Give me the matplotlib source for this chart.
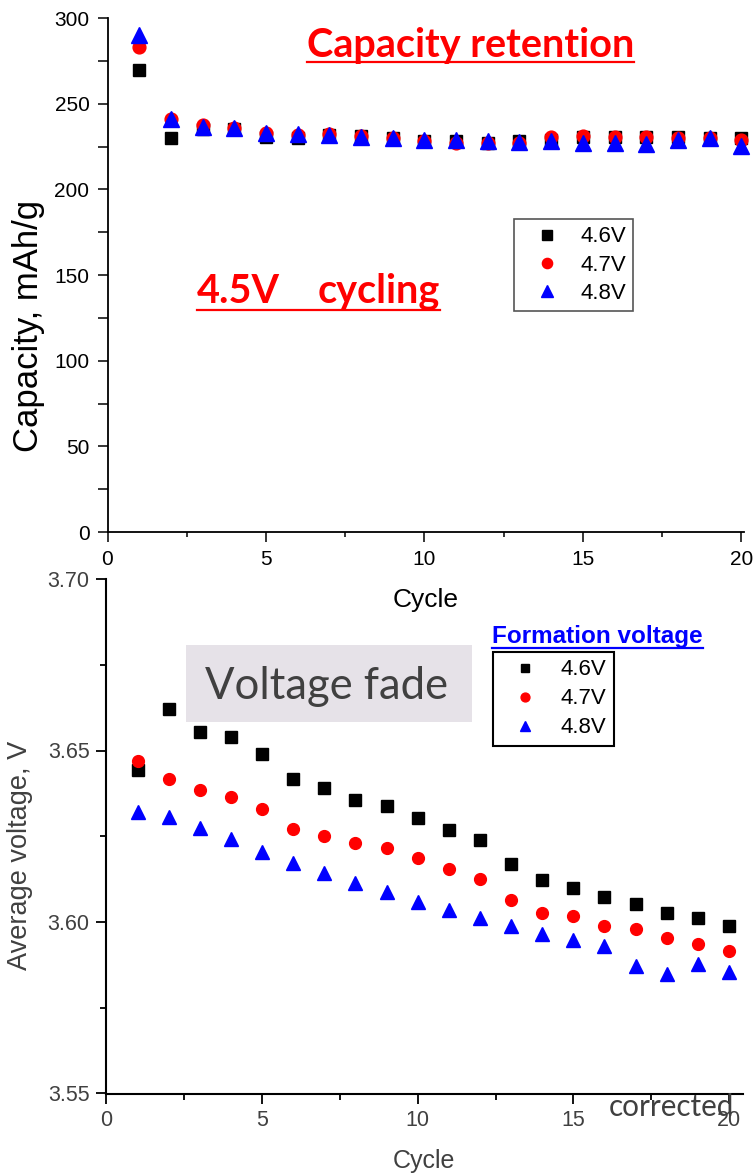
import numpy as np
import matplotlib.pyplot as plt
from matplotlib.lines import Line2D
from matplotlib.patches import Rectangle
from matplotlib.ticker import MultipleLocator, FormatStrFormatter

# Cycle numbers shared by both panels
cycles = np.arange(1, 21)

# Discharge capacity (mAh/g) per cycle at 4.5V, for each formation voltage
cap_46 = [269.6, 230.0, 235.5, 235.0, 230.4, 230.0, 232.0, 231.0, 229.8, 228.5,
          228.0, 227.0, 228.0, 229.0, 230.8, 230.8, 230.8, 230.4, 229.8, 229.8]
cap_47 = [283.3, 241.0, 237.6, 236.0, 232.7, 231.8, 232.3, 231.2, 229.8, 228.0,
          227.0, 227.0, 227.0, 230.4, 231.2, 230.4, 230.4, 229.8, 229.8, 228.8]
cap_48 = [290.0, 241.0, 236.6, 235.8, 233.0, 232.3, 232.0, 230.6, 230.0, 228.8,
          228.8, 228.2, 227.6, 228.0, 227.3, 226.9, 226.3, 228.8, 229.8, 225.5]

# Average discharge voltage (V) per cycle
volt_46 = [3.6443, 3.6620, 3.6553, 3.6538, 3.6490, 3.6416, 3.6390, 3.6355, 3.6337, 3.6302,
           3.6268, 3.6239, 3.6169, 3.6122, 3.6098, 3.6074, 3.6052, 3.6027, 3.6011, 3.5988]
volt_47 = [3.6469, 3.6416, 3.6385, 3.6364, 3.6329, 3.6270, 3.6251, 3.6231, 3.6215, 3.6187,
           3.6154, 3.6125, 3.6064, 3.6027, 3.6018, 3.5988, 3.5979, 3.5954, 3.5935, 3.5915]
volt_48 = [3.6322, 3.6307, 3.6273, 3.6241, 3.6205, 3.6173, 3.6144, 3.6115, 3.6087, 3.6059,
           3.6035, 3.6011, 3.5988, 3.5965, 3.5948, 3.5930, 3.5873, 3.5848, 3.5878, 3.5853]

labels = ["4.6V", "4.7V", "4.8V"]
colors = ["black", "red", "blue"]
markers = ["s", "o", "^"]

W, H = 755, 1175
fig = plt.figure(figsize=(W / 100, H / 100), dpi=100)


def px_axes(x0, x1, ytop, ybot):
    return fig.add_axes([x0 / W, 1 - ybot / H, (x1 - x0) / W, (ybot - ytop) / H])


def underline(first, last, y_px, color, lw):
    fig.canvas.draw()
    x0 = first.get_window_extent().x0
    x1 = last.get_window_extent().x1
    fig.add_artist(Line2D([x0 / W, x1 / W], [1 - y_px / H] * 2,
                          transform=fig.transFigure, color=color, lw=lw))


# ---- capacity retention panel ----
ax1 = px_axes(107.5, 744.5, 18, 532)
cap_sizes = [8.2, 9.2, 11]
for y, c, m, ms, lab in zip([cap_46, cap_47, cap_48], colors, markers, cap_sizes, labels):
    ax1.plot(cycles, y, ls="none", marker=m, color=c, ms=ms, label=lab, clip_on=False)
ax1.set_xlim(0, 20.1)
ax1.set_ylim(0, 300)
ax1.xaxis.set_major_locator(MultipleLocator(5))
ax1.xaxis.set_minor_locator(MultipleLocator(2.5))
ax1.yaxis.set_major_locator(MultipleLocator(50))
ax1.yaxis.set_minor_locator(MultipleLocator(25))
for s in ["top", "right"]:
    ax1.spines[s].set_visible(False)
for s in ["left", "bottom"]:
    ax1.spines[s].set_linewidth(1.3)
ax1.tick_params(which="major", direction="out", length=7, width=1.1, labelsize=15, pad=6)
ax1.tick_params(axis="y", which="minor", direction="out", length=7, width=1.1)
ax1.tick_params(axis="x", which="minor", direction="out", length=3.5, width=1.1)
for t in ax1.get_xticklabels() + ax1.get_yticklabels():
    t.set_family("Liberation Sans")
fig.text(29 / W, 1 - 326 / H, "Capacity, mAh/g", rotation=90, ha="center", va="center",
         fontsize=25, family="Liberation Sans")
fig.text(426 / W, 1 - 600 / H, "Cycle", ha="center", va="center",
         fontsize=19, family="Liberation Sans")
leg1 = ax1.legend(loc="upper left", bbox_to_anchor=(514 / W, 1 - 219 / H),
                  bbox_transform=fig.transFigure, borderaxespad=0, fancybox=False,
                  edgecolor="#555555", framealpha=1, prop={"family": "Liberation Sans", "size": 16},
                  handlelength=2.3, handletextpad=0.35, borderpad=0.33, labelspacing=0.33,
                  markerscale=0.8)
leg1.get_frame().set_linewidth(1.2)

title_kw = dict(ha="left", va="baseline", fontsize=28.5, fontweight="bold",
                color="red", family="Lato")
t1 = fig.text(307 / W, 1 - 57 / H, "Capacity retention", **title_kw)
t2a = fig.text(197 / W, 1 - 303 / H, "4.5V", **title_kw)
t2b = fig.text(318 / W, 1 - 303 / H, "cycling", **title_kw)

# ---- voltage fade panel ----
gray = "#404040"
ax2 = px_axes(106.4, 743, 579, 1093.5)
volt_sizes = [8, 8.5, 10]
for y, c, m, ms, lab in zip([volt_46, volt_47, volt_48], colors, markers, volt_sizes, labels):
    ax2.plot(cycles, y, ls="none", marker=m, color=c, ms=ms, label=lab)
ax2.set_xlim(0, 20.45)
ax2.set_ylim(3.55, 3.70)
ax2.xaxis.set_major_locator(MultipleLocator(5))
ax2.xaxis.set_minor_locator(MultipleLocator(2.5))
ax2.yaxis.set_major_locator(MultipleLocator(0.05))
ax2.yaxis.set_minor_locator(MultipleLocator(0.025))
ax2.yaxis.set_major_formatter(FormatStrFormatter("%.2f"))
for s in ["top", "right"]:
    ax2.spines[s].set_visible(False)
for s in ["left", "bottom"]:
    ax2.spines[s].set_linewidth(1.5)
ax2.tick_params(which="major", direction="out", length=7, width=1.3, labelsize=15.5,
                labelcolor=gray, pad=5)
ax2.tick_params(which="minor", direction="out", length=4.5, width=1.3)
for t in ax2.get_xticklabels() + ax2.get_yticklabels():
    t.set_family("Liberation Sans")
fig.text(20 / W, 1 - 855 / H, "Average voltage, V", rotation=90, ha="center", va="center",
         fontsize=19.5, family="Liberation Sans", color=gray)
fig.text(424 / W, 1 - 1161 / H, "Cycle", ha="center", va="center",
         fontsize=18, family="Liberation Sans", color=gray)

leg2 = ax2.legend(loc="upper left", bbox_to_anchor=(493 / W, 1 - 652 / H),
                  bbox_transform=fig.transFigure, borderaxespad=0, fancybox=False,
                  edgecolor="black", framealpha=1, prop={"family": "Liberation Sans", "size": 16},
                  handlelength=2.2, handletextpad=0.52, borderpad=0.33, labelspacing=0.36,
                  markerscale=0.75)
leg2.get_frame().set_linewidth(1.5)
t3 = fig.text(492 / W, 1 - 643 / H, "Formation voltage", ha="left", va="baseline",
              fontsize=17.5, fontweight="bold", color="blue", family="Liberation Sans")

# shaded note box
fig.add_artist(Rectangle((186 / W, 1 - 722 / H), (472 - 186) / W, (722 - 645) / H,
                         transform=fig.transFigure, facecolor="#e6e2e8", edgecolor="none"))
fig.text(205 / W, 1 - 699 / H, "Voltage fade", ha="left", va="baseline",
         fontsize=31.4, color=gray, family="Lato")
fig.text(609 / W, 1 - 1116 / H, "corrected", ha="left", va="baseline",
         fontsize=21.3, color=gray, family="Lato")

underline(t1, t1, 62, "red", 1.6)
underline(t2a, t2b, 310, "red", 1.6)
underline(t3, t3, 648, "blue", 1.6)

fig.savefig("out.png", dpi=100)
